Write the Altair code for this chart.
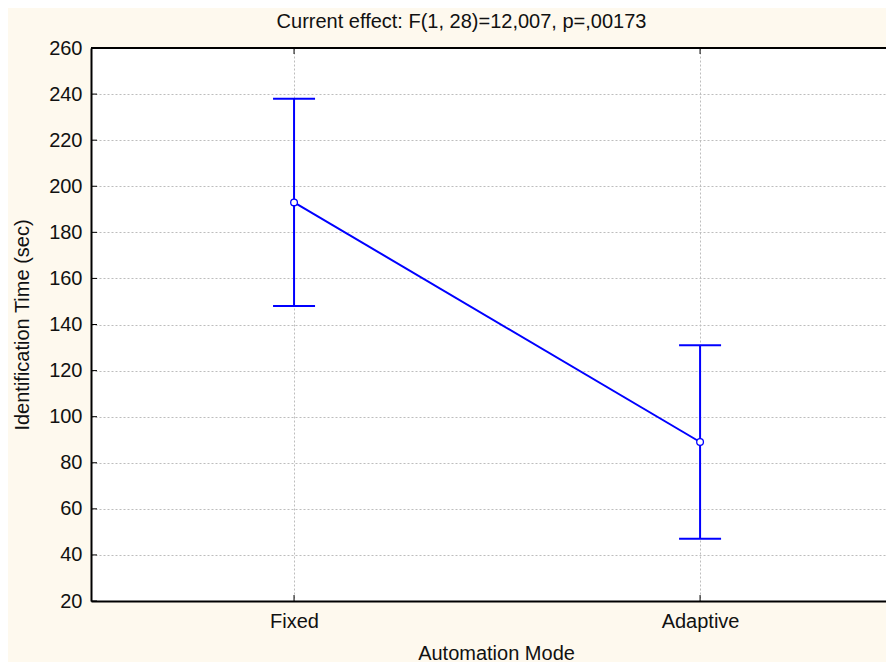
import altair as alt
import pandas as pd

# ---- data ----
modes = ["Fixed", "Adaptive"]
means = [193, 89]
upper = [238, 131]
lower = [148, 47]
y_tick_values = [20, 40, 60, 80, 100, 120, 140, 160, 180, 200, 220, 240, 260]
y_domain = [20, 260]

title_text = "Current effect: F(1, 28)=12,007, p=,00173"
x_title = "Automation Mode"
y_title = "Identification Time (sec)"

df = pd.DataFrame({"mode": modes, "mean": means, "upper": upper, "lower": lower})
ticks_df = pd.DataFrame({"v": y_tick_values})
top_df = pd.DataFrame({"v": [y_domain[1]]})

FONT = "Liberation Sans"
FS = 20
BLUE = "#0000FF"
W, H = 795, 553

xscale = alt.Scale(type="point", domain=modes, padding=0.479, align=0.522)
yscale = alt.Scale(domain=y_domain, nice=False, zero=False)

xaxis = alt.Axis(title=x_title, labelAngle=0, grid=True, ticks=False,
                 labelPadding=10, titleX=405, titleY=58, titleBaseline="alphabetic")
yaxis = alt.Axis(title=y_title, values=y_tick_values, grid=True, ticks=False,
                 labelPadding=9, titleX=-69, titleY=H / 2, titleBaseline="middle",
                 titleAngle=-90)

def X(field="mode:N"):
    return alt.X(field, scale=xscale, sort=modes, axis=xaxis)

def Y(field):
    return alt.Y(field, scale=yscale, axis=yaxis)

base = alt.Chart(df)

line = base.mark_line(color=BLUE, strokeWidth=2).encode(x=X(), y=Y("mean:Q"))
err = base.mark_rule(color=BLUE, strokeWidth=2).encode(x=X(), y=Y("lower:Q"), y2="upper:Q")
cap_hi = base.mark_tick(color=BLUE, thickness=2, size=42, orient="horizontal", opacity=1).encode(
    x=X(), y=Y("upper:Q"))
cap_lo = base.mark_tick(color=BLUE, thickness=2, size=42, orient="horizontal", opacity=1).encode(
    x=X(), y=Y("lower:Q"))
pts = base.mark_point(shape="circle", filled=True, fill="white", stroke=BLUE,
                      strokeWidth=1.3, size=45, opacity=1).encode(x=X(), y=Y("mean:Q"))

top_border = alt.Chart(top_df).mark_rule(color="black", strokeWidth=2).encode(y=Y("v:Q"))
y_inner_ticks = alt.Chart(ticks_df).mark_tick(color="black", thickness=1, size=6,
                                              orient="horizontal", opacity=1).encode(
    y=Y("v:Q"), x=alt.value(3))
x_inner_ticks_b = base.mark_tick(color="black", thickness=1, size=6, orient="vertical",
                                 opacity=1).encode(x=X(), y=alt.value(H - 3))
x_inner_ticks_t = base.mark_tick(color="black", thickness=1, size=6, orient="vertical",
                                 opacity=1).encode(x=X(), y=alt.value(3))

chart = alt.layer(
    top_border, y_inner_ticks, x_inner_ticks_b, x_inner_ticks_t,
    line, err, cap_hi, cap_lo, pts
).properties(
    width=W, height=H,
    title=alt.TitleParams(text=title_text, dx=-27, offset=6, fontSize=FS,
                          font=FONT, fontWeight="normal", color="#111111"),
    autosize=alt.AutoSizeParams(type="none"),
    padding={"left": 83, "top": 40, "right": 0, "bottom": 61},
    background="#FEF9EE",
).configure_view(
    fill="white", stroke=None
).configure_axis(
    labelFont=FONT, labelFontSize=FS, labelColor="#111111",
    titleFont=FONT, titleFontSize=FS, titleFontWeight="normal", titleColor="#111111",
    domainColor="black", domainWidth=2,
    gridColor="#bdbdbd", gridDash=[2, 2], gridWidth=1,
)

chart.save("out.html", embed_options={"renderer": "svg", "actions": False})
